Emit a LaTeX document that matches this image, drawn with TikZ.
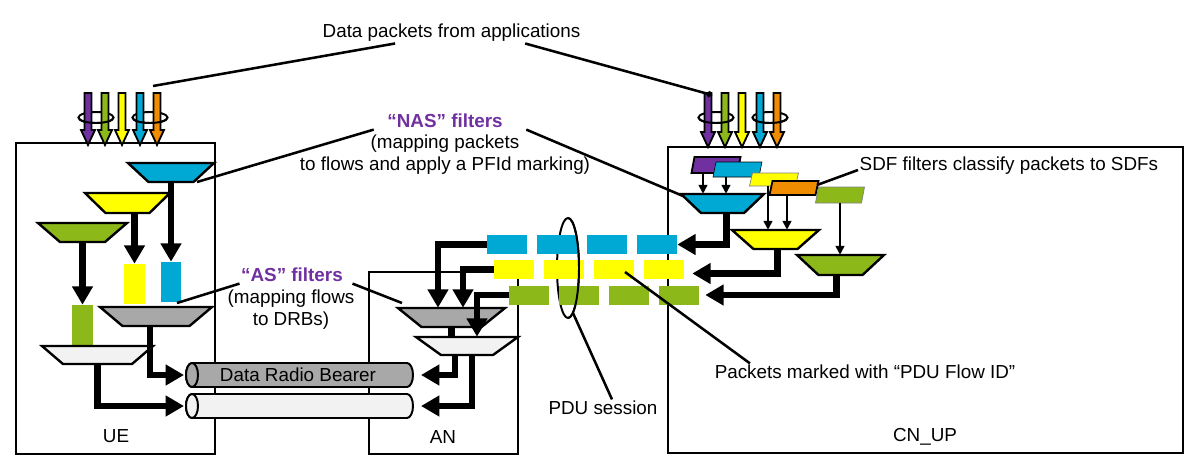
\documentclass[tikz,border=0pt]{standalone}
\usepackage{fontspec}
\setmainfont{Liberation Sans}
\usetikzlibrary{arrows.meta}

\definecolor{flowpurple}{RGB}{112,48,160}
\definecolor{flowgreen}{RGB}{140,185,25}
\definecolor{flowyellow}{RGB}{255,255,0}
\definecolor{flowcyan}{RGB}{0,168,212}
\definecolor{floworange}{RGB}{240,140,0}
\definecolor{filtgray}{RGB}{168,168,168}
\definecolor{filtlight}{RGB}{242,242,242}
\definecolor{labelpurple}{RGB}{112,48,160}

% horizontal bearer tube, #1 = y of axis, #2 = fill
\newcommand{\drawtube}[2]{%
  \draw[tubeline,fill=#2] (192,#1+12) -- (407,#1+12)
    arc[start angle=90,end angle=-90,x radius=6,y radius=12]
    -- (192,#1-12) arc[start angle=270,end angle=90,x radius=6,y radius=12] -- cycle;
  \draw[tubeline,fill=#2] (192,#1) ellipse [x radius=6,y radius=12];}

% funnel filter: name, cx, cy, top width, bottom width, height, fill
\newcommand{\filter}[7]{%
  \draw[filtline,fill=#7] (#2-#4/2,#3+#6/2) -- (#2+#4/2,#3+#6/2)
    -- (#2+#5/2,#3-#6/2) -- (#2-#5/2,#3-#6/2) -- cycle;
  \node[inner sep=0pt,minimum width=#5*0.025cm,minimum height=#6*0.025cm] (#1) at (#2,#3) {};}

% SDF filter: name, cx, cy, height, style
\newcommand{\sdfpara}[5]{%
  \draw[#5] (#2-21.5,#3+#4/2) -- (#2+24.5,#3+#4/2)
    -- (#2+21.5,#3-#4/2) -- (#2-24.5,#3-#4/2) -- cycle;
  \node[inner sep=0pt,minimum width=1.15cm,minimum height=#4*0.025cm] (#1) at (#2,#3) {};}

\begin{document}
\begin{tikzpicture}[x=0.025cm,y=0.025cm,
  every node/.style={font=\fontsize{13.4}{15.8}\selectfont,inner sep=1pt},
  box/.style={draw,line width=1.5pt},
  filtline/.style={draw,line width=1.7pt,line join=miter},
  col/.style={inner sep=0pt,minimum width=0.5cm,minimum height=1cm},
  pkt/.style={inner sep=0pt,minimum width=1cm,minimum height=0.475cm},
  fat/.style={line width=4.5pt,-{Triangle[length=0.46cm,width=0.5cm]}},
  stub/.style={line width=4.5pt},
  thinarr/.style={line width=1.2pt,-{Triangle[length=0.22cm,width=0.22cm]}},
  leader/.style={line width=1.8pt},
  ringline/.style={line width=1.4pt},
  apparrow/.style={draw,line width=1.3pt,line join=miter},
  tubeline/.style={draw,line width=1.4pt},
  purp/.style={text=labelpurple,font=\fontsize{13.4}{15.8}\selectfont\bfseries},
]
\useasboundingbox (0,0) rectangle (1192,-474);

% boxes
\draw[box] (16,-143) rectangle (215,-454);
\draw[box] (369,-272) rectangle (518,-454);
\draw[box] (668,-147) rectangle (1183,-453);
\node (ue) at (116,-436) {UE};
\node (an) at (443,-437) {AN};
\node (cnup) at (925,-437) {CN\_UP};

% radio bearers
\drawtube{-375}{filtgray}
\drawtube{-406}{filtlight}
\node (drb) at (298,-375) {Data Radio Bearer};
\coordinate (drbL) at (184,-375);
\coordinate (drbR) at (421,-375);
\coordinate (tubeL) at (184,-406);
\coordinate (tubeR) at (421,-406);

% application flows entering UE and CN_UP
\foreach \ox/\ty in {0/-145,620/-147}{
  \draw[ringline] (\ox+96,-117.5) ellipse [x radius=17.5,y radius=5.5];
  \draw[ringline] (\ox+150,-117.5) ellipse [x radius=17.5,y radius=5.5];
  \foreach \ax/\ac in {88/flowpurple,105/flowgreen,122/flowyellow,140/flowcyan,157/floworange}
    \draw[apparrow,fill=\ac] (\ox+\ax-3.5,-93) -- ++(7,0) -- (\ox+\ax+3.5,\ty+15)
      -- ++(3.5,0) -- (\ox+\ax,\ty) -- (\ox+\ax-7,\ty+15) -- ++(3.5,0) -- cycle;
  \draw[ringline] (\ox+113.5,-117.5) arc[start angle=0,end angle=-180,x radius=17.5,y radius=5.5];
  \draw[ringline] (\ox+167.5,-117.5) arc[start angle=0,end angle=-180,x radius=17.5,y radius=5.5];
}

% UE filters
\filter{uecyan}{171}{-172.5}{86}{45}{19}{flowcyan}
\filter{ueyel}{127.5}{-203}{85}{44}{20}{flowyellow}
\filter{uegrn}{82.5}{-232.5}{89}{45}{19}{flowgreen}
\node[col,fill=flowcyan] (uec) at (171,-282) {};
\node[col,fill=flowyellow] (uey) at (134.5,-284) {};
\node[col,fill=flowgreen] (ueg) at (82.5,-325) {};
\filter{uegray}{156}{-316.5}{112}{67}{19}{filtgray}
\filter{uelight}{97.5}{-355}{111}{69}{18}{filtlight}
\draw[fat] (uecyan.south) -- (uec.north);
\draw[fat] (ueyel.south -| uey.north) -- (uey.north);
\draw[fat] (uegrn.south) -- (ueg.north);
\draw[fat] ([xshift=-0.15cm]uegray.south) |- (drbL);
\draw[fat] (uelight.south) |- (tubeL);

% AN filters
\filter{angray}{451.5}{-317.5}{107}{60}{19}{filtgray}
\filter{anlight}{467}{-346}{102}{52}{18}{filtlight}

% PDU session ring, back half
\draw[ringline] (568,-268) ellipse [x radius=11,y radius=50];

% marked packets
\foreach \i in {0,...,3}{
  \node[pkt,fill=flowcyan] (pc\i) at (507+50*\i,-244.5) {};
  \node[pkt,fill=flowyellow] (py\i) at (514+50*\i,-269.5) {};
  \node[pkt,fill=flowgreen] (pg\i) at (529+50*\i,-295) {};
}

% PDU session ring, front half
\draw[ringline] (568,-218) arc[start angle=90,end angle=-90,x radius=11,y radius=50];

\draw[fat] (pc0.west) -| ([xshift=-0.3375cm]angray.north);
\draw[fat] (py0.west) -| ([xshift=0.2875cm]angray.north);
\draw[fat] (pg0.west) -| ([xshift=0.25cm]anlight.north);
\draw[stub] (angray.south) -- (angray.south |- anlight.north);
\draw[fat] ([xshift=-0.3cm]anlight.south) |- (drbR);
\draw[fat] ([xshift=0.125cm]anlight.south) |- (tubeR);

% CN_UP: SDF filters and NAS filters
\sdfpara{ppur}{716}{-165}{16}{draw,line width=1.3pt,fill=flowpurple}
\sdfpara{pcya}{737.5}{-169.5}{15}{fill=flowcyan}
\sdfpara{pyel}{774}{-179.5}{13}{draw=gray,line width=0.5pt,fill=flowyellow}
\sdfpara{pora}{794}{-188}{14}{draw,line width=1.3pt,fill=floworange}
\sdfpara{pgrn}{840}{-195}{16}{draw=gray,line width=0.5pt,fill=flowgreen}
\filter{cncyan}{722.5}{-203.5}{83}{43}{19}{flowcyan}
\filter{cnyel}{775.5}{-239.5}{87}{44}{19}{flowyellow}
\filter{cngrn}{840.5}{-265}{87}{44}{20}{flowgreen}

\coordinate (s1) at ([xshift=-0.325cm]ppur.south);
\coordinate (s2) at ([xshift=-0.2875cm]pcya.south);
\coordinate (s3) at ([xshift=-0.15cm]pyel.south);
\coordinate (s4) at ([xshift=-0.175cm]pora.south);
\draw[thinarr] (s1) -- (s1 |- cncyan.north);
\draw[thinarr] (s2) -- (s2 |- cncyan.north);
\draw[thinarr] (s3) -- (s3 |- cnyel.north);
\draw[thinarr] (s4) -- (s4 |- cnyel.north);
\draw[thinarr] (pgrn.south) -- (pgrn.south |- cngrn.north);

\draw[fat] ([xshift=0.1cm]cncyan.south) |- (pc3.east);
\draw[fat] ([xshift=0.05cm]cnyel.south) |- ([xshift=0.2cm,yshift=-0.1cm]py3.east);
\draw[fat] ([xshift=-0.1cm]cngrn.south) |- ([xshift=0.15cm]pg3.east);

% labels
\node (title) at (451.5,-33) {Data packets from applications};
\node[purp] (nas) at (445,-121) {“NAS” filters};
\node[align=center] (nasd) at (445,-155) {(mapping packets\\to flows and apply a PFId marking)};
\node[purp] (as) at (292,-275) {“AS” filters};
\node[align=center] (asd) at (291,-309.5) {(mapping flows\\to DRBs)};
\node[anchor=west] (sdflbl) at (858,-166) {SDF filters classify packets to SDFs};
\node (pdu) at (603,-408) {PDU session};
\node (marked) at (865,-372) {Packets marked with “PDU Flow ID”};

% leader lines
\coordinate (app1) at (153,-86);
\coordinate (app2) at (712,-95);
\coordinate (nasue) at (197,-182);
\coordinate (nascn) at (683,-196);
\coordinate (asue) at (177,-303);
\coordinate (asan) at (402,-303);
\coordinate (sdfo) at (817,-185);
\coordinate (ring) at (573,-313);
\coordinate (pfid) at (625,-272);
\draw[leader] ([xshift=-1.41cm]title.south) -- (app1);
\draw[leader,-{Circle[length=0.15cm]}] ([xshift=1.84cm]title.south) -- (app2);
\draw[leader] ([xshift=-0.3cm]nas.south west) -- (nasue);
\draw[leader] ([xshift=0.55cm]nas.south east) -- (nascn);
\draw[leader] (as.south west) -- (asue);
\draw[leader] ([xshift=0.2cm]as.south east) -- (asan);
\draw[leader] ([yshift=-0.1cm]sdflbl.west) -- (sdfo);
\draw[leader] ([xshift=0.225cm]pdu.north) -- (ring);
\draw[leader] ([xshift=-2.875cm]marked.north) -- (pfid);
\end{tikzpicture}
\end{document}
